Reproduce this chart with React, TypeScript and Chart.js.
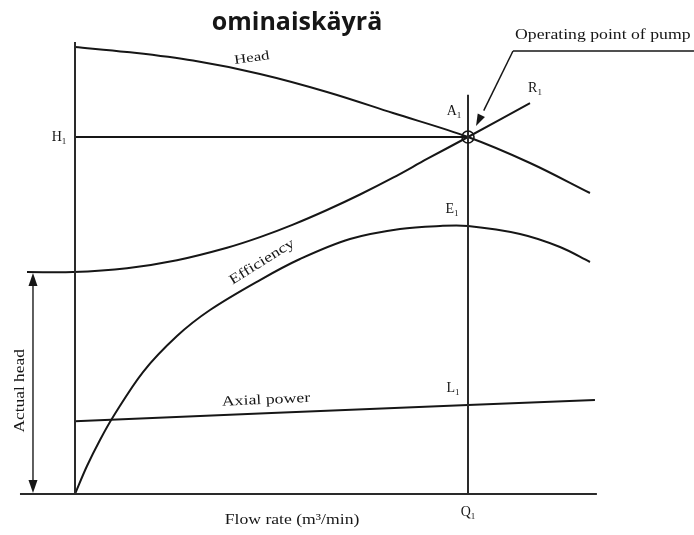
import React, { useEffect, useRef } from "react";
import { Chart, registerables } from "chart.js";

Chart.register(...registerables);

// Flow rate (arbitrary units, Q1 = 10) and heads (H1 = 100)
const Q1 = 10;
const H1 = 100;
const STATIC_HEAD = 62.2;

const headFlow = [0, 1.323, 3.003, 4.707, 6.412, 8.092, 10, 11.578, 13.104];
const headValues = [125.21, 123.81, 121.4, 117.65, 112.61, 106.72, 100, 92.72, 84.31];

const systemFlow = [-1.221, -0.051, 1.323, 2.595, 3.868, 4.707, 5.547, 6.412, 7.252, 8.092, 8.957, 10, 11.578];
const systemValues = [62.18, 62.18, 63.26, 65.49, 68.99, 71.96, 75.46, 79.55, 83.89, 88.6, 93.84, 100, 109.52];

const effFlow = [0, 0.305, 0.636, 0.967, 1.73, 2.595, 3.435, 4.707, 5.725, 6.997, 8.27, 9.288, 10, 11.323, 12.341, 13.104];
const effValues = [0, 7.84, 15.13, 21.57, 34.17, 44.26, 51.54, 59.94, 65.83, 71.43, 74.23, 75.07, 75.07, 72.83, 69.19, 64.99];

const powerFlow = [0, 5, 10, 13.23];
const powerValues = [20.4, 22.7, 24.9, 26.3];

const X_MIN = -1.9084, X_MAX = 15.7506;
const Y_MIN = -11.485, Y_MAX = 138.375;

const INK = "#161616";
const AXIS = "#2a2a2a";

const toPts = (xs: number[], ys: number[]) => xs.map((v, i) => ({ x: v, y: ys[i] }));

function curve(data: { x: number; y: number }[], color = INK, width = 2, tension = 0.35) {
  return {
    data,
    showLine: true,
    borderColor: color,
    borderWidth: width,
    pointRadius: 0,
    pointHoverRadius: 0,
    fill: false,
    tension,
  };
}

const overlay = {
  id: "overlay",
  afterDatasetsDraw(chart: any) {
    const { ctx, scales } = chart;
    const X = (v: number) => scales.x.getPixelForValue(v);
    const Y = (v: number) => scales.y.getPixelForValue(v);
    ctx.save();

    // operating point circle
    ctx.strokeStyle = INK;
    ctx.lineWidth = 1.6;
    ctx.beginPath();
    ctx.arc(X(Q1), Y(H1), 6, 0, Math.PI * 2);
    ctx.stroke();

    const tri = (tx: number, ty: number, ang: number, len = 11, half = 4) => {
      ctx.save();
      ctx.translate(tx, ty);
      ctx.rotate(ang);
      ctx.beginPath();
      ctx.moveTo(0, 0);
      ctx.lineTo(-len, -half);
      ctx.lineTo(-len, half);
      ctx.closePath();
      ctx.fillStyle = INK;
      ctx.fill();
      ctx.restore();
    };

    // actual head arrows
    const ax = X(-1.069);
    tri(ax, Y(STATIC_HEAD) + 1, -Math.PI / 2, 13, 4.5);
    tri(ax, Y(0) - 1, Math.PI / 2, 13, 4.5);

    // leader arrow head
    const sx = X(11.145), sy = Y(124.1), ex = X(10.204), ey = Y(103.1);
    tri(ex, ey, Math.atan2(ey - sy, ex - sx), 12, 4);

    const serif = "Liberation Serif";
    const text = (
      s: string,
      xv: number,
      yv: number,
      size: number,
      rot = 0,
      sx = 1.0,
      align: CanvasTextAlign = "center",
      font = serif,
      weight = "normal"
    ) => {
      ctx.save();
      ctx.translate(X(xv), Y(yv));
      ctx.rotate((rot * Math.PI) / 180);
      ctx.scale(sx, 1);
      ctx.font = `${weight} ${size}px "${font}"`;
      ctx.fillStyle = INK;
      ctx.textAlign = align;
      ctx.textBaseline = "middle";
      ctx.fillText(s, 0, 0);
      ctx.restore();
    };
    const subLabel = (s: string, xv: number, yv: number) => {
      ctx.save();
      ctx.font = `14px "${serif}"`;
      const w = ctx.measureText(s).width;
      ctx.font = `9px "${serif}"`;
      const w2 = ctx.measureText("1").width;
      const x0 = X(xv) - (w + w2) / 2;
      const y0 = Y(yv);
      ctx.fillStyle = INK;
      ctx.textBaseline = "middle";
      ctx.textAlign = "left";
      ctx.font = `14px "${serif}"`;
      ctx.fillText(s, x0, y0);
      ctx.font = `9px "${serif}"`;
      ctx.fillText("1", x0 + w, y0 + 5);
      ctx.restore();
    };

    subLabel("A", 9.644, 107.3);
    subLabel("R", 11.705, 113.7);
    subLabel("H", -0.407, 100);
    subLabel("E", 9.593, 79.8);
    subLabel("L", 9.618, 29.7);
    subLabel("Q", 10, -5.04);

    text("Head", 4.5, 122.1, 13, -8, 1.3);
    text("Efficiency", 4.758, 65.0, 14, -32, 1.28);
    text("Axial power", 4.86, 26.3, 14, -2.5, 1.27);
    text("Flow rate (m\u00b3/min)", 5.522, -7.28, 14, 0, 1.26);
    text("Actual head", -1.399, 28.9, 14, -90, 1.24);
    text("Operating point of pump", 11.196, 128.6, 15, 0, 1.18, "left");
    text("ominaisk\u00e4yr\u00e4", 5.649, 132.0, 25, 0, 1, "center", "Open Sans", "bold");

    ctx.restore();
  },
};

export default function App() {
  const ref = useRef<HTMLCanvasElement | null>(null);
  useEffect(() => {
    if (!ref.current) return;
    const chart = new Chart(ref.current, {
      type: "scatter",
      data: {
        datasets: [
          // axes and guide lines
          curve(toPts([0, 0], [0, 126.6]), AXIS, 2, 0),
          curve(toPts([-1.4, 13.28], [0, 0]), AXIS, 2, 0),
          curve(toPts([Q1, Q1], [0, 111.8]), AXIS, 2, 0),
          curve(toPts([0, Q1], [H1, H1]), INK, 2, 0),
          curve(toPts([-1.069, -1.069], [2, STATIC_HEAD - 2]), AXIS, 1.5, 0),
          curve(toPts([11.145, 15.75], [124.1, 124.1]), INK, 1.5, 0),
          curve(toPts([11.145, 10.4], [124.1, 107.4]), INK, 1.5, 0),
          // curves
          curve(toPts(headFlow, headValues)),
          curve(toPts(systemFlow, systemValues)),
          curve(toPts(effFlow, effValues)),
          curve(toPts(powerFlow, powerValues), INK, 2, 0),
        ],
      },
      options: {
        animation: false,
        responsive: false,
        events: [],
        layout: { padding: 0 },
        plugins: { legend: { display: false }, tooltip: { enabled: false }, title: { display: false } },
        scales: {
          x: { type: "linear", min: X_MIN, max: X_MAX, display: false },
          y: { type: "linear", min: Y_MIN, max: Y_MAX, display: false },
        },
      },
      plugins: [overlay],
    });
    return () => chart.destroy();
  }, []);
  return (
    <div style={{ position: "absolute", left: 0, top: 0, width: 694, height: 535, background: "#fff" }}>
      <canvas ref={ref} width={694} height={535} />
    </div>
  );
}
